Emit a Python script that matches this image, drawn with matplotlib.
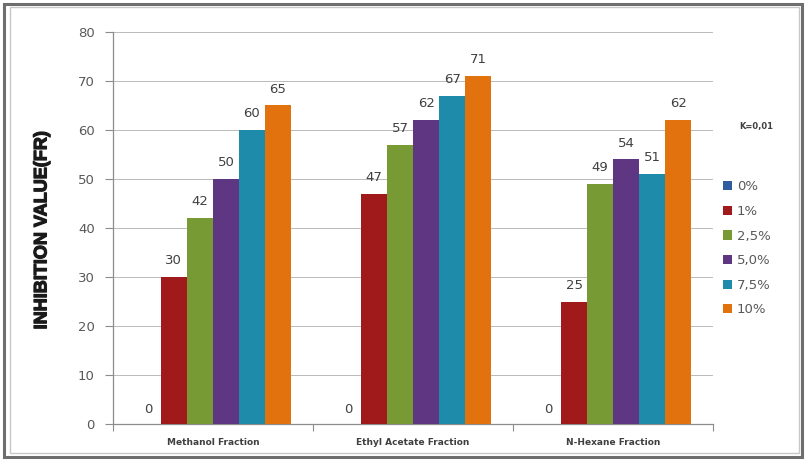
import numpy as np
import matplotlib
matplotlib.use("Agg")
import matplotlib.pyplot as plt
import matplotlib.patheffects as pe
from matplotlib.patches import Rectangle

# data
categories = ["Methanol Fraction", "Ethyl Acetate Fraction", "N-Hexane Fraction"]
series_names = ["0%", "1%", "2,5%", "5,0%", "7,5%", "10%"]
conc_0 = [0, 0, 0]
conc_1 = [30, 47, 25]
conc_2_5 = [42, 57, 49]
conc_5_0 = [50, 62, 54]
conc_7_5 = [60, 67, 51]
conc_10 = [65, 71, 62]
series_values = [conc_0, conc_1, conc_2_5, conc_5_0, conc_7_5, conc_10]
colors = ["#2E5C9E", "#A0191B", "#779A35", "#5E3682", "#1F8BAA", "#E2720E"]

text_col = "#595959"

fig = plt.figure(figsize=(8.06, 4.61), dpi=100)
fig.patch.set_facecolor("white")

# outer frame of the picture
fig.add_artist(Rectangle((0.005, 0.008), 0.99, 0.984, transform=fig.transFigure,
                         fill=False, edgecolor="#6E6E6E", linewidth=2.2))
fig.add_artist(Rectangle((0.013, 0.018), 0.978, 0.966, transform=fig.transFigure,
                         fill=False, edgecolor="#C8C8C8", linewidth=1.0))

ax = fig.add_axes([0.140, 0.080, 0.745, 0.851])

x = np.arange(len(categories))
w = 0.13
for i, (name, vals, c) in enumerate(zip(series_names, series_values, colors)):
    ax.bar(x + (i - 2.5) * w, vals, width=w, color=c, label=name, zorder=3)
    for xi, v in zip(x + (i - 2.5) * w, vals):
        ax.annotate(str(v), (xi, v), xytext=(0, 7 if v else 6), textcoords="offset points",
                    ha="center", va="bottom", fontsize=9.5, color="#404040")

ax.set_xlim(-0.5, 2.5)
ax.set_ylim(0, 80)
ax.set_yticks(np.arange(0, 81, 10))
ax.yaxis.grid(True, color="#B0B0B0", linewidth=0.6, zorder=0)
ax.set_axisbelow(True)

ax.set_xticks([-0.5, 0.5, 1.5, 2.5])
ax.set_xticklabels([])
ax.set_xticks(x, minor=True)
ax.set_xticklabels(categories, minor=True, fontsize=6.5, fontweight="bold", color="#3F3F3F")
ax.tick_params(axis="x", which="minor", length=0, pad=10)
ax.tick_params(axis="x", which="major", length=5, color="#8C8C8C", direction="out")
ax.tick_params(axis="y", length=6, color="#8C8C8C", labelsize=9.5, labelcolor=text_col, pad=7)

for s in ["top", "right"]:
    ax.spines[s].set_visible(False)
for s in ["left", "bottom"]:
    ax.spines[s].set_color("#8C8C8C")
    ax.spines[s].set_linewidth(0.9)

fig.text(0.052, 0.50, "INHIBITION VALUE(FR)", rotation=90, ha="center", va="center",
         fontsize=13, fontweight="bold", color="#1A1A1A",
         family=["Liberation Sans Narrow", "Liberation Sans", "DejaVu Sans"],
         path_effects=[pe.withStroke(linewidth=0.9, foreground="#1A1A1A")])

fig.text(0.938, 0.725, "K=0,01", ha="center", va="center", fontsize=6,
         fontweight="bold", color="#404040")

leg = ax.legend(loc="upper left", bbox_to_anchor=(1.0, 0.645), frameon=False,
                fontsize=9.5, handlelength=0.7, handleheight=0.7, labelspacing=0.88,
                handletextpad=0.4, borderaxespad=0.3)
for t in leg.get_texts():
    t.set_color(text_col)

fig.savefig("out.png", dpi=100)
